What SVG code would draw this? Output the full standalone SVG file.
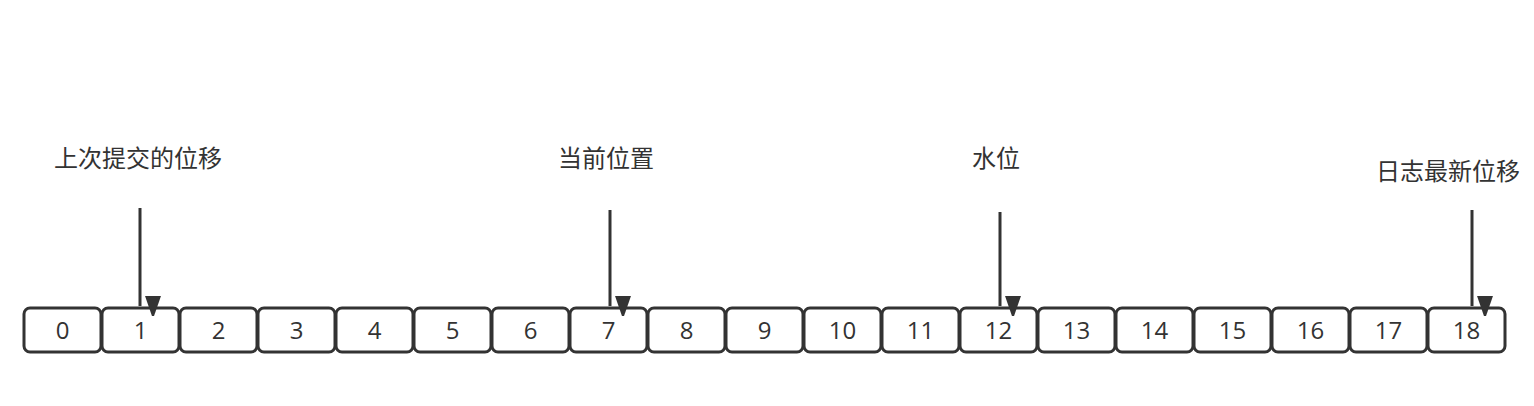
<svg xmlns="http://www.w3.org/2000/svg" width="1534" height="406" viewBox="0 0 1534 406">
<style>
.b{fill:#fff;stroke:#333;stroke-width:3}
.n{font-family:"Open Sans","Liberation Sans",sans-serif;font-size:24px;fill:#333;text-anchor:middle}
.l{font-family:"Noto Sans CJK SC","Liberation Sans",sans-serif;font-size:24px;fill:#333;text-anchor:middle}
.c{stroke:#333;stroke-width:3;fill:none;marker-end:url(#a)}
</style>
<defs><marker id="a" markerUnits="userSpaceOnUse" markerWidth="20" markerHeight="28" refX="10" refY="26" orient="auto-start-reverse" viewBox="0 0 20 28"><path d="M1,0 L19,0 L10,26 Z" transform="rotate(-90 10 13)" fill="#333"/></marker></defs>
<rect width="1534" height="406" fill="#fff"/>
<g id="nodes">
<g id="n0"><rect class="b" x="24" y="308" width="77" height="44" rx="6"/><text class="n" x="62.5" y="339">0</text></g>
<g id="n1"><rect class="b" x="102" y="308" width="77" height="44" rx="6"/><text class="n" x="140.5" y="339">1</text></g>
<g id="n2"><rect class="b" x="180" y="308" width="77" height="44" rx="6"/><text class="n" x="218.5" y="339">2</text></g>
<g id="n3"><rect class="b" x="258" y="308" width="77" height="44" rx="6"/><text class="n" x="296.5" y="339">3</text></g>
<g id="n4"><rect class="b" x="336" y="308" width="77" height="44" rx="6"/><text class="n" x="374.5" y="339">4</text></g>
<g id="n5"><rect class="b" x="414" y="308" width="77" height="44" rx="6"/><text class="n" x="452.5" y="339">5</text></g>
<g id="n6"><rect class="b" x="492" y="308" width="77" height="44" rx="6"/><text class="n" x="530.5" y="339">6</text></g>
<g id="n7"><rect class="b" x="570" y="308" width="77" height="44" rx="6"/><text class="n" x="608.5" y="339">7</text></g>
<g id="n8"><rect class="b" x="648" y="308" width="77" height="44" rx="6"/><text class="n" x="686.5" y="339">8</text></g>
<g id="n9"><rect class="b" x="726" y="308" width="77" height="44" rx="6"/><text class="n" x="764.5" y="339">9</text></g>
<g id="n10"><rect class="b" x="804" y="308" width="77" height="44" rx="6"/><text class="n" x="842.5" y="339">10</text></g>
<g id="n11"><rect class="b" x="882" y="308" width="77" height="44" rx="6"/><text class="n" x="920.5" y="339">11</text></g>
<g id="n12"><rect class="b" x="960" y="308" width="77" height="44" rx="6"/><text class="n" x="998.5" y="339">12</text></g>
<g id="n13"><rect class="b" x="1038" y="308" width="77" height="44" rx="6"/><text class="n" x="1076.5" y="339">13</text></g>
<g id="n14"><rect class="b" x="1116" y="308" width="77" height="44" rx="6"/><text class="n" x="1154.5" y="339">14</text></g>
<g id="n15"><rect class="b" x="1194" y="308" width="77" height="44" rx="6"/><text class="n" x="1232.5" y="339">15</text></g>
<g id="n16"><rect class="b" x="1272" y="308" width="77" height="44" rx="6"/><text class="n" x="1310.5" y="339">16</text></g>
<g id="n17"><rect class="b" x="1350" y="308" width="77" height="44" rx="6"/><text class="n" x="1388.5" y="339">17</text></g>
<g id="n18"><rect class="b" x="1428" y="308" width="77" height="44" rx="6"/><text class="n" x="1466.5" y="339">18</text></g>
<g id="lab1"><text class="l" x="138" y="167">上次提交的位移</text></g>
<g id="lab2"><text class="l" x="606" y="167">当前位置</text></g>
<g id="lab3"><text class="l" x="996" y="167">水位</text></g>
<g id="lab4"><text class="l" x="1448" y="180">日志最新位移</text></g>
</g>
<g id="connectors">
<line class="c" x1="140" y1="208" x2="140" y2="306"/>
<line class="c" x1="610" y1="210" x2="610" y2="306"/>
<line class="c" x1="1000" y1="212" x2="1000" y2="306"/>
<line class="c" x1="1472" y1="210" x2="1472" y2="306"/>
</g>
</svg>
